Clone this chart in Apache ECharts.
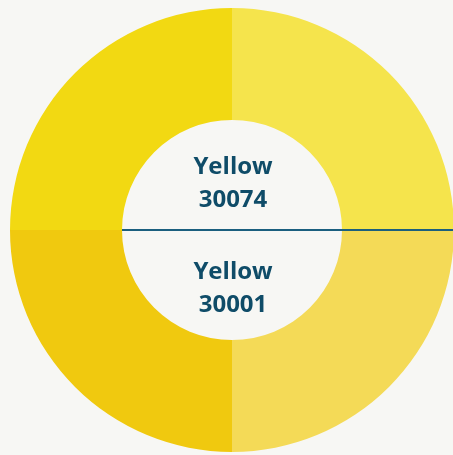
<!DOCTYPE html>
<html>
<head>
<meta charset="utf-8">
<script src="https://cdn.jsdelivr.net/npm/echarts@6/dist/echarts.min.js"></script>
<style>
  html, body { margin: 0; padding: 0; background: #f7f7f4; }
  #chart { width: 453px; height: 455px; }
</style>
</head>
<body>
<div id="chart"></div>
<script>
// swatch quarters, clockwise from 12 o'clock
var quarters = ['30074 light', '30001 light', '30001 full', '30074 full']
var shares = [25, 25, 25, 25]
var quarterColors = ['#f5e44c', '#f4da57', '#f0c90f', '#f2d912']

// labels inside the hole
var topLabel = ['Yellow', '30074']
var bottomLabel = ['Yellow', '30001']

var eChart = echarts.init(document.getElementById('chart'))

var pieData = quarters.map(function(name, i) {
  return { name: name, value: shares[i], itemStyle: { color: quarterColors[i] } }
})

var option = {
  backgroundColor: '#f7f7f4',
  animation: false,
  series: [
    {
      type: 'pie',
      center: [232, 230],
      radius: [110, 222],
      startAngle: 90,
      clockwise: true,
      silent: true,
      z: 1,
      label: { show: false },
      labelLine: { show: false },
      itemStyle: { borderWidth: 0 },
      data: pieData
    }
  ],
  graphic: [
    {
      // divider line through the hole and the right half
      type: 'line',
      z: 100,
      shape: { x1: 122, y1: 230, x2: 453, y2: 230 },
      style: { stroke: '#1b5f7e', lineWidth: 2 }
    },
    {
      type: 'text',
      z: 100,
      x: 233,
      y: 184,
      style: {
        text: topLabel.join('\n'),
        fill: '#0f4c68',
        font: 'bold 24px "Open Sans", sans-serif',
        lineHeight: 33,
        align: 'center',
        verticalAlign: 'middle'
      }
    },
    {
      type: 'text',
      z: 100,
      x: 233,
      y: 289,
      style: {
        text: bottomLabel.join('\n'),
        fill: '#0f4c68',
        font: 'bold 24px "Open Sans", sans-serif',
        lineHeight: 33,
        align: 'center',
        verticalAlign: 'middle'
      }
    }
  ]
}
eChart.setOption(option)
</script>
</body>
</html>
